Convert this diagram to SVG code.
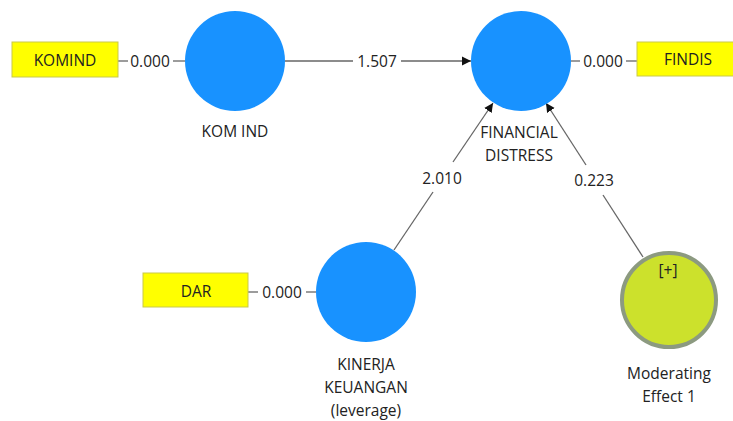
<svg xmlns="http://www.w3.org/2000/svg" width="733" height="421" viewBox="0 0 733 421">
<defs>
<marker id="arr" markerWidth="10" markerHeight="10" refX="9" refY="5" orient="auto" markerUnits="userSpaceOnUse">
<path d="M0,0.5 L9,5 L0,9.5 Z" fill="#111"/>
</marker>
<style>
text{font-family:"Open Sans","Noto Sans","DejaVu Sans",sans-serif;font-size:15.5px;fill:#222;text-anchor:middle;dominant-baseline:central}
.lv{fill:#1892ff}
.ind{fill:#ffff00;stroke:#c9c94a;stroke-width:1}
.ln{stroke:#666;stroke-width:1.3;fill:none}
</style>
</defs>
<rect width="733" height="421" fill="#fff"/>
<g id="connectors">
<line class="ln" x1="118" y1="61" x2="128" y2="61"/>
<line class="ln" x1="173" y1="61" x2="185" y2="61"/>
<text x="150" y="61">0.000</text>
<line class="ln" x1="285" y1="61" x2="353" y2="61"/>
<line class="ln" x1="401" y1="61" x2="471" y2="61" marker-end="url(#arr)"/>
<text x="377" y="61">1.507</text>
<line class="ln" x1="571" y1="61" x2="580" y2="61"/>
<line class="ln" x1="626" y1="61" x2="637" y2="61"/>
<text x="603" y="61">0.000</text>
<line class="ln" x1="248" y1="292" x2="258" y2="292"/>
<line class="ln" x1="306" y1="292" x2="316" y2="292"/>
<text x="282" y="292">0.000</text>
<line class="ln" x1="394" y1="250" x2="433" y2="192"/>
<line class="ln" x1="453" y1="162" x2="493" y2="103" marker-end="url(#arr)"/>
<text x="442" y="178">2.010</text>
<line class="ln" x1="643" y1="257" x2="603" y2="195"/>
<line class="ln" x1="586" y1="165" x2="546" y2="103" marker-end="url(#arr)"/>
<text x="594" y="180">0.223</text>
</g>
<g id="komind-ind">
<rect class="ind" x="12" y="42" width="106" height="35"/>
<text x="65" y="60">KOMIND</text>
</g>
<g id="findis-ind">
<rect class="ind" x="637" y="42" width="100" height="34"/>
<text x="688" y="59">FINDIS</text>
</g>
<g id="dar-ind">
<rect class="ind" x="143" y="273" width="105" height="34"/>
<text x="196" y="291">DAR</text>
</g>
<g id="kom-ind">
<circle class="lv" cx="235" cy="61" r="50"/>
<text x="235" y="131">KOM IND</text>
</g>
<g id="financial-distress">
<circle class="lv" cx="521" cy="61" r="50"/>
<text x="519" y="132">FINANCIAL</text>
<text x="519" y="155">DISTRESS</text>
</g>
<g id="kinerja-keuangan">
<circle class="lv" cx="366" cy="292" r="50"/>
<text x="366" y="364">KINERJA</text>
<text x="366" y="387">KEUANGAN</text>
<text x="366" y="410">(leverage)</text>
</g>
<g id="moderating-effect">
<circle cx="669" cy="300" r="47" fill="#cce12c" stroke="#8c9a80" stroke-width="4"/>
<text x="668" y="270">[+]</text>
<text x="669" y="373">Moderating</text>
<text x="669" y="396">Effect 1</text>
</g>
</svg>
